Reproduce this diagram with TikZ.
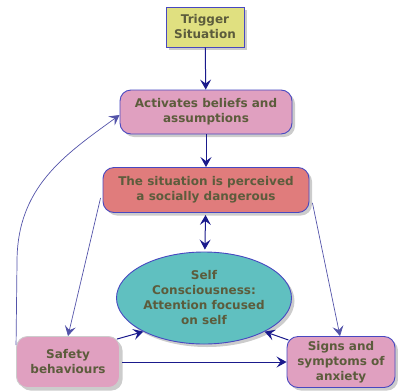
\documentclass[tikz,border=0pt]{standalone}
\usepackage{fontspec}
\setmainfont{DejaVu Sans}
\usetikzlibrary{arrows.meta, shapes.geometric, shadows}
\definecolor{txtcol}{HTML}{5C5C3C}
\definecolor{linecol}{HTML}{1A1A8C}
\definecolor{edgecol}{HTML}{4848C0}
\definecolor{trigfill}{HTML}{E0E080}
\definecolor{pinkfill}{HTML}{E0A0C0}
\definecolor{redfill}{HTML}{E07C7C}
\definecolor{tealfill}{HTML}{60C0C0}

\begin{document}
\begin{tikzpicture}[x=1pt, y=1pt, >={Stealth[length=10pt, width=11pt, inset=4pt]},
  every node/.style={font=\fontsize{12}{15}\selectfont\bfseries, text=txtcol, align=center, inner sep=1pt},
  flowbox/.style={draw=edgecol, line width=0.9pt, drop shadow={shadow xshift=3pt, shadow yshift=-3pt, fill=black!40}},
  roundbox/.style={flowbox, rounded corners=11pt},
  arr/.style={->, draw=linecol, line width=1pt},
  thinarr/.style={->, draw=linecol!75, line width=0.7pt}]
  \useasboundingbox (0,0) rectangle (398,-391);
  \node[flowbox, fill=trigfill, minimum width=78pt, minimum height=40pt] (trig) at (205,-27) {Trigger\\Situation};
  \node[roundbox, fill=pinkfill, minimum width=172pt, minimum height=44pt] (act) at (206,-112) {Activates beliefs and\\assumptions};
  \node[roundbox, fill=redfill, minimum width=206pt, minimum height=45pt] (sit) at (206,-190) {The situation is perceived\\a socially dangerous};
  \node[flowbox, ellipse, fill=tealfill, minimum width=175pt, minimum height=92pt, inner sep=0pt] (ell) at (204,-298) {Self\\Consciousness:\\Attention focused\\on self};
  \node[roundbox, draw=black!20, fill=pinkfill, minimum width=103pt, minimum height=51pt] (saf) at (68,-362) {Safety\\behaviours};
  \node[roundbox, fill=pinkfill, minimum width=108pt, minimum height=51pt] (sig) at (341,-362) {Signs and\\symptoms of\\anxiety};
  \coordinate (bend) at (17,-262);
  % arrows
  \draw[arr] (trig) -- (act);
  \draw[arr] (act) -- (sit);
  \draw[arr, <->, shorten <=2pt, shorten >=2pt] (sit) -- (ell);
  \draw[thinarr] ([shift={(-2pt,15pt)}]sit.south west) -- (saf.north);
  \draw[thinarr] ([shift={(3pt,10pt)}]sit.south east) -- ([xshift=-1pt]sig.north);
  \draw[arr] ([shift={(-3pt,-3pt)}]saf.north east) -- (ell.209);
  \draw[arr] ([shift={(2pt,-4pt)}]sig.north west) -- (ell.331);
  \draw[arr] ([xshift=2pt]saf.east) -- (sig.west);
  \draw[thinarr] ([yshift=-9pt]saf.north west) -- (bend) .. controls +(0,75) and +(-55,-40) .. ([yshift=-3pt]act.west);
\end{tikzpicture}
\end{document}
